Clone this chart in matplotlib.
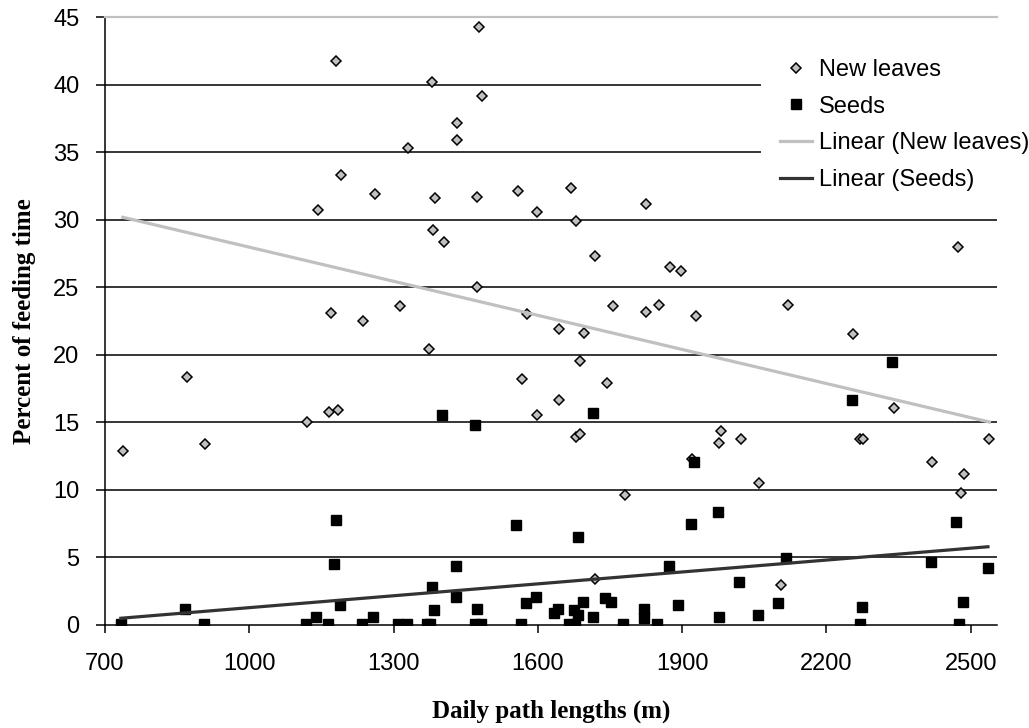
import numpy as np
import matplotlib
matplotlib.use("Agg")
import matplotlib.pyplot as plt

# ========================================================
# 1. DATA
# ========================================================
leaves_x = [737, 870, 909, 1121, 1142, 1166, 1170, 1181, 1184, 1191,
            1236, 1261, 1313, 1331, 1373, 1380, 1383, 1387, 1404, 1431,
            1432, 1474, 1474, 1478, 1484, 1558, 1568, 1578, 1599, 1599,
            1645, 1645, 1670, 1680, 1680, 1688, 1688, 1697, 1719, 1719,
            1743, 1756, 1781, 1824, 1824, 1852, 1875, 1897, 1920, 1929,
            1977, 1981, 2022, 2060, 2105, 2120, 2256, 2270, 2276, 2340,
            2420, 2473, 2480, 2487, 2539]
leaves_y = [12.9, 18.4, 13.4, 15.0, 30.75, 15.8, 23.1, 41.8, 15.9, 33.3,
            22.5, 31.9, 23.6, 35.35, 20.45, 40.2, 29.25, 31.65, 28.4, 37.2,
            35.9, 31.7, 25.0, 44.3, 39.2, 32.15, 18.2, 23.0, 30.6, 15.55,
            21.95, 16.7, 32.4, 29.9, 13.95, 14.15, 19.55, 21.6, 27.35, 3.4,
            17.9, 23.6, 9.65, 31.2, 23.2, 23.7, 26.5, 26.2, 12.3, 22.9,
            13.5, 14.4, 13.8, 10.5, 2.95, 23.7, 21.55, 13.8, 13.8, 16.05,
            12.05, 28.0, 9.75, 11.2, 13.8]

seeds_x = [733, 866, 905, 1118, 1139, 1164, 1177, 1180, 1188, 1234,
           1258, 1310, 1327, 1369, 1376, 1380, 1384, 1401, 1429, 1429,
           1470, 1474, 1469, 1481, 1554, 1565, 1575, 1596, 1634, 1641,
           1665, 1677, 1676, 1684, 1683, 1694, 1715, 1715, 1740, 1753,
           1778, 1820, 1820, 1848, 1872, 1892, 1918, 1925, 1974, 1977,
           2019, 2057, 2100, 2117, 2253, 2270, 2274, 2337, 2417, 2470,
           2476, 2484, 2536]
seeds_y = [0.1, 1.2, 0.1, 0.1, 0.6, 0.1, 4.5, 7.75, 1.45, 0.1,
           0.6, 0.1, 0.1, 0.1, 0.1, 2.85, 1.1, 15.55, 4.4, 2.1,
           14.8, 1.2, 0.1, 0.1, 7.4, 0.1, 1.6, 2.1, 0.9, 1.2,
           0.1, 0.1, 1.1, 0.75, 6.5, 1.7, 15.7, 0.6, 2.0, 1.7,
           0.1, 1.2, 0.5, 0.1, 4.35, 1.5, 7.5, 12.1, 8.4, 0.6,
           3.2, 0.75, 1.6, 4.95, 16.7, 0.1, 1.35, 19.45, 4.7, 7.65,
           0.1, 1.7, 4.25]

x_ticks = [700, 1000, 1300, 1600, 1900, 2200, 2500]
y_ticks = [0, 5, 10, 15, 20, 25, 30, 35, 40, 45]


# ========================================================
# 2. LINEAR TRENDLINES (like the spreadsheet "Linear" fit)
# ========================================================
def trend(xs, ys):
    a, b = np.polyfit(xs, ys, 1)
    xx = np.array([min(xs), max(xs)])
    return xx, a * xx + b


# ========================================================
# 3. PLOT
# ========================================================
fig = plt.figure(figsize=(10.29, 7.28), dpi=100)
ax = fig.add_axes([0.102, 0.1415, 0.867, 0.8345])

for yv in y_ticks[1:-1]:
    ax.axhline(yv, color="black", lw=1.1, zorder=1)

lx, ly = trend(leaves_x, leaves_y)
sx, sy = trend(seeds_x, seeds_y)

ax.plot(leaves_x, leaves_y, "D", ms=4.8, mfc="#c0c0c0", mec="black",
        mew=1.1, ls="none", label="New leaves", zorder=3)
ax.plot(seeds_x, seeds_y, "s", ms=6.5, mfc="black", mec="black",
        ls="none", label="Seeds", zorder=3)
ax.plot(lx, ly, color="#c0c0c0", lw=2.3, label="Linear (New leaves)", zorder=4)
ax.plot(sx, sy, color="#333333", lw=2.3, label="Linear (Seeds)", zorder=4)

ax.set_xlim(700, 2555)
ax.set_ylim(0, 45)
ax.set_xticks(x_ticks)
ax.set_yticks(y_ticks)

ax.spines["right"].set_visible(False)
ax.spines["top"].set_color("#c0c0c0")
ax.spines["top"].set_linewidth(1.6)
ax.spines["left"].set_linewidth(1.1)
ax.spines["bottom"].set_linewidth(1.1)

ax.tick_params(axis="y", direction="out", length=6.5, width=1.1, pad=12,
               labelsize=17)
ax.tick_params(axis="x", direction="out", length=6, width=1.1, pad=14,
               labelsize=17)
for lab in ax.get_xticklabels() + ax.get_yticklabels():
    lab.set_family("Liberation Sans")

ax.set_xlabel("Daily path lengths (m)", family="Liberation Serif",
              fontweight="bold", fontsize=18, labelpad=18)
ax.set_ylabel("Percent of feeding time", family="Liberation Serif",
              fontweight="bold", fontsize=18, labelpad=12)

leg = ax.legend(loc="upper left", bbox_to_anchor=(761 / 1029, 1 - 40 / 728),
                bbox_transform=fig.transFigure, frameon=True, fancybox=False,
                facecolor="white", edgecolor="none", framealpha=1,
                prop={"family": "Liberation Sans", "size": 17},
                handlelength=1.35, handletextpad=0.3, labelspacing=0.62,
                borderpad=0.8, borderaxespad=0)
leg.set_zorder(5)

fig.savefig("out.png", dpi=100)
